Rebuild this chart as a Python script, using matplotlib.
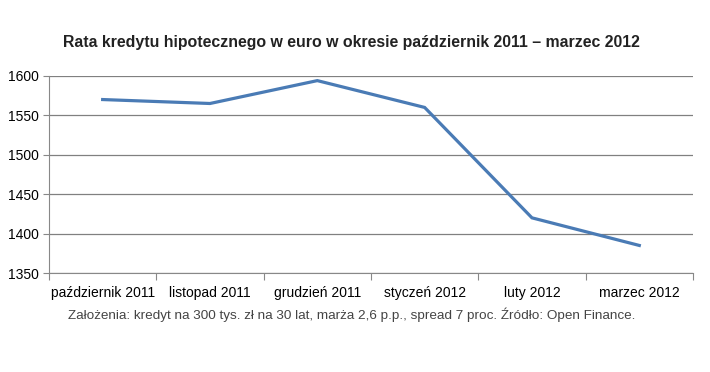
import matplotlib.pyplot as plt
import numpy as np

months = ["październik 2011", "listopad 2011", "grudzień 2011",
          "styczeń 2012", "luty 2012", "marzec 2012"]
rates = [1570, 1565, 1594, 1560, 1420, 1385]
yticks = [1350, 1400, 1450, 1500, 1550, 1600]

plt.rcParams['font.family'] = ['Liberation Sans', 'DejaVu Sans']

fig = plt.figure(figsize=(7.1, 3.72), dpi=100)
ax = fig.add_axes([0.069, 0.266, 0.907, 0.530])

x = np.arange(len(months))
ax.plot(x, rates, color="#4a7bb5", lw=2.3, solid_joinstyle="miter")

ax.set_xlim(-0.5, len(months) - 0.5)
ax.set_ylim(1350, 1600)
ax.set_yticks(yticks)
ax.set_xticks(np.arange(len(months) + 1) - 0.5)
ax.set_xticklabels([])
ax.set_xticks(x, minor=True)
ax.set_xticklabels(months, minor=True, fontsize=10)
ax.tick_params(axis="x", which="minor", length=0, pad=9)
ax.tick_params(axis="x", which="major", length=5, color="#888888")
ax.tick_params(axis="y", length=4, color="#888888", labelsize=10, pad=3)
ax.grid(axis="y", color="#808080", lw=0.9)
ax.set_axisbelow(True)
for s in ["top", "right"]:
    ax.spines[s].set_visible(False)
for s in ["left", "bottom"]:
    ax.spines[s].set_color("#888888")

fig.text(0.495, 0.885, "Rata kredytu hipotecznego w euro w okresie październik 2011 – marzec 2012",
         ha="center", va="center", fontsize=11.4, fontweight="bold", color="#222222")
fig.text(0.496, 0.155, "Założenia: kredyt na 300 tys. zł na 30 lat, marża 2,6 p.p., spread 7 proc. Źródło: Open Finance.",
         ha="center", va="center", fontsize=9.7, color="#444444")

fig.savefig("out.png", dpi=100)
